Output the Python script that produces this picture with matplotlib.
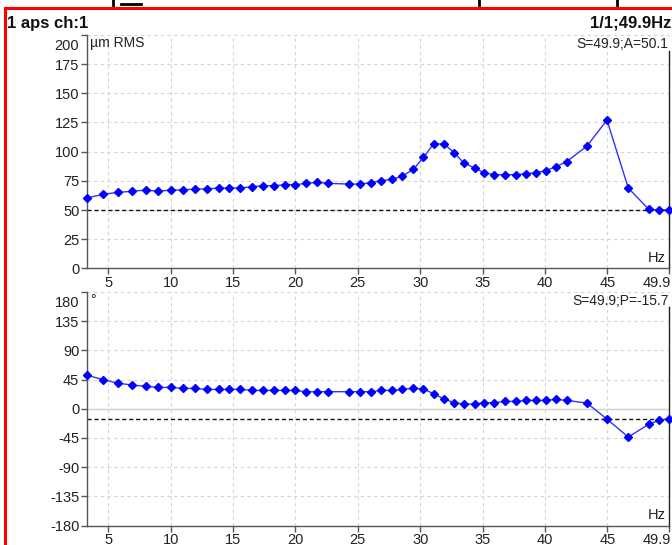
import matplotlib
matplotlib.use("Agg")
import matplotlib.pyplot as plt
import matplotlib.transforms as mtransforms
from matplotlib.lines import Line2D

# spectrum data
freq = [3.34, 4.62, 5.75, 6.90, 8.02, 9.01, 10.02, 11.01, 11.95, 12.88, 13.84,
        14.70, 15.58, 16.56, 17.44, 18.30, 19.18, 19.98, 20.87, 21.72, 22.60,
        24.33, 25.14, 26.02, 26.88, 27.76, 28.56, 29.46, 30.26, 31.07, 31.92,
        32.72, 33.47, 34.35, 35.13, 35.93, 36.79, 37.64, 38.49, 39.27, 40.04,
        40.87, 41.72, 43.36, 44.96, 46.67, 48.29, 49.10, 49.9]
amplitude = [60.5, 63.4, 65.1, 66.0, 67.1, 66.0, 67.1, 67.1, 68.0, 68.0, 68.8,
             68.8, 68.8, 70.0, 70.8, 70.8, 71.7, 71.7, 72.8, 73.7, 72.8,
             72.2, 72.2, 73.4, 75.1, 76.3, 79.1, 84.8, 95.1, 106.5, 106.5,
             99.0, 90.5, 85.9, 81.9, 80.2, 80.2, 80.2, 81.1, 81.9, 83.6,
             87.1, 91.3, 104.8, 127.0, 68.8, 50.8, 50.0, 50.1]
phase = [51.3, 44.7, 39.5, 36.4, 34.4, 32.8, 32.8, 31.3, 31.3, 29.7, 29.7,
         29.7, 29.7, 28.2, 28.2, 28.2, 28.2, 28.2, 26.2, 26.2, 26.2,
         26.2, 26.2, 26.2, 28.2, 28.2, 29.7, 31.8, 30.2, 23.1, 14.8,
         9.2, 7.1, 7.1, 9.2, 9.2, 11.2, 11.2, 12.8, 12.8, 12.8,
         14.3, 12.8, 8.7, -16.0, -43.7, -24.2, -18.0, -15.7]

cursor_freq = 49.9
cursor_amp = 50.1
cursor_phase = -15.7
xticks = [5, 10, 15, 20, 25, 30, 35, 40, 45, 49.9]
xticklabels = ["5", "10", "15", "20", "25", "30", "35", "40", "45", "49.9"]
amp_ticks = [0, 25, 50, 75, 100, 125, 150, 175, 200]
phase_ticks = [-180, -135, -90, -45, 0, 45, 90, 135, 180]

plt.rcParams['font.family'] = ['Liberation Sans', 'DejaVu Sans']
plt.rcParams['axes.unicode_minus'] = False
fig = plt.figure(figsize=(6.72, 5.45), dpi=100)
W, H = 672, 545


def px(x0, y0, x1, y1):
    # pixel box (top-left origin) -> figure rect
    return [x0 / W, 1 - y1 / H, (x1 - x0) / W, (y1 - y0) / H]


def setupAxis(ax, yticks, ylim):
    ax.set_xlim(3.3, 49.9)
    ax.set_ylim(*ylim)
    ax.set_xticks(xticks)
    ax.set_xticklabels(xticklabels)
    ax.set_yticks(yticks)
    for x in xticks[:-1]:
        ax.axvline(x, color="#d4d4d4", lw=0.8, ls=(0, (3, 3)), zorder=0)
    for y in yticks[1:]:
        ax.axhline(y, color="#d4d4d4", lw=0.8, ls=(0, (3, 3)), zorder=0, clip_on=False)
    ax.spines['top'].set_visible(False)
    ax.spines['right'].set_visible(False)
    for s in ('left', 'bottom'):
        ax.spines[s].set_color("#555555")
        ax.spines[s].set_linewidth(1)
    ax.tick_params(axis='both', direction='out', length=4, width=1, color="#555555",
                   labelsize=10.5, labelcolor="#222222", pad=1.5)
    top = ax.yaxis.get_major_ticks()[-1].label1
    top.set_verticalalignment('top')
    top.set_transform(top.get_transform() +
                      mtransforms.ScaledTranslation(0, -4 / 100, fig.dpi_scale_trans))
    last = ax.xaxis.get_major_ticks()[-1].label1
    last.set_horizontalalignment('right')
    last.set_transform(last.get_transform() +
                       mtransforms.ScaledTranslation(2 / 100, 0, fig.dpi_scale_trans))
    ax.patch.set_visible(False)


ax1 = fig.add_axes(px(87, 34.8, 668.6, 268.4))
setupAxis(ax1, amp_ticks, (0, 200))
ax1.plot(freq, amplitude, color="#3030ff", lw=1, marker="D", ms=4.5,
         mfc="#0000ff", mec="#0000ff", clip_on=False, zorder=3)
ax1.axhline(cursor_amp, color="#111111", lw=1, ls=(0, (3, 2)), zorder=2)
ax1.plot([cursor_freq, cursor_freq], [0, 186], color="#222222", lw=1, clip_on=False)
ax1.text(3.55, 199, "µm RMS", fontsize=10, color="#222222", va="top", ha="left")
ax1.text(49.85, 198, "S=49.9;A=50.1", fontsize=10, color="#222222", va="top", ha="right")
ax1.text(49.7, 3, "Hz", fontsize=10.5, color="#222222", va="bottom", ha="right")

ax2 = fig.add_axes(px(87, 291.9, 668.6, 525.5))
setupAxis(ax2, phase_ticks, (-180, 180))
ax2.axhline(0, color="#d0d0d0", lw=1, zorder=1)
ax2.plot(freq, phase, color="#3030ff", lw=1, marker="D", ms=4.5,
         mfc="#0000ff", mec="#0000ff", clip_on=False, zorder=3)
ax2.axhline(cursor_phase, color="#111111", lw=1, ls=(0, (3, 2)), zorder=2)
ax2.plot([cursor_freq, cursor_freq], [-180, 157], color="#222222", lw=1, clip_on=False)
ax2.text(3.55, 179, "°", fontsize=10, color="#222222", va="top", ha="left")
ax2.text(49.95, 176, "S=49.9;P=-15.7", fontsize=10, color="#222222", va="top", ha="right")
ax2.text(49.7, -175, "Hz", fontsize=10.5, color="#222222", va="bottom", ha="right")

# header
fig.text(7 / W, 1 - 28 / H, "1 aps ch:1", fontsize=12, fontweight="bold", color="#111111")
fig.text(671 / W, 1 - 28 / H, "1/1;49.9Hz", fontsize=12, fontweight="bold",
         color="#111111", ha="right")

# red frame and clipped glyphs of the window title above it
fig.add_artist(Line2D([5 / W, 5 / W], [0, 1 - 8 / H], color="#ff0000", lw=2.2))
fig.add_artist(Line2D([5 / W, 1], [1 - 8 / H, 1 - 8 / H], color="#ff0000", lw=2.2))
for x in (113, 479, 617):
    fig.add_artist(Line2D([x / W, x / W], [1 - 5 / H, 1], color="black", lw=2))
fig.add_artist(Line2D([121 / W, 141 / W], [1 - 4 / H, 1 - 4 / H], color="black", lw=2))

fig.savefig("out.png", dpi=100)
